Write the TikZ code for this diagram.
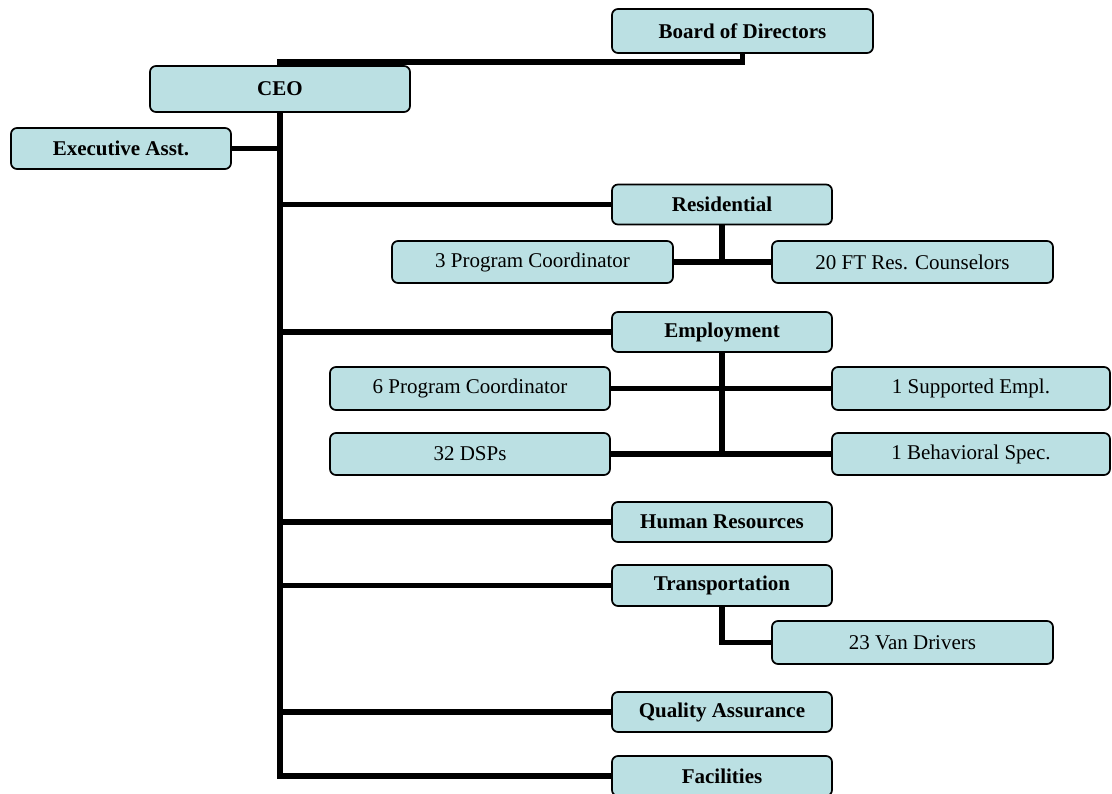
\documentclass[tikz,border=0pt]{standalone}
\usepackage{fontspec}
\setmainfont{Liberation Serif}
\definecolor{boxfill}{RGB}{187,224,227}
\tikzset{
  orgbox/.style={draw=black, line width=1.7pt, fill=boxfill, rounded corners=6pt,
    minimum height=40pt, inner sep=0pt, font=\fontsize{21}{25}\selectfont\bfseries},
  subbox/.style={draw=black, line width=1.7pt, fill=boxfill, rounded corners=6pt,
    minimum height=42pt, minimum width=280pt, inner sep=0pt, font=\fontsize{21}{25}\selectfont},
  link/.style={line width=5.8pt, line join=miter, black}
}
\begin{document}
\begin{tikzpicture}[x=1pt,y=-1pt]
\useasboundingbox (0,0) rectangle (1112,794);
% nodes
\node[orgbox, minimum width=261pt, minimum height=44pt] (board) at (742.5,31) {Board of Directors};
\node[orgbox, minimum width=260pt, minimum height=46pt] (ceo) at (280,89) {CEO};
\node[orgbox, minimum width=220pt, minimum height=41pt] (exec) at (121,148.5) {Executive Asst.};
\node[orgbox, minimum width=220pt] (res) at (722,204.5) {Residential};
\node[subbox, minimum width=281pt] (pc3) at (532.5,262) {3 Program Coordinator};
\node[subbox, minimum width=281pt] (ft20) at (912.5,262) {20 FT Res. Counselors};
\node[orgbox, minimum width=220pt] (emp) at (722,332) {Employment};
\node[subbox, minimum height=43pt] (pc6) at (470,388.5) {6 Program Coordinator};
\node[subbox, minimum width=278pt, minimum height=43pt] (se1) at (971,388.5) {1 Supported Empl.};
\node[subbox] (dsp) at (470,454) {32 DSPs};
\node[subbox, minimum width=278pt] (bs1) at (971,454) {1 Behavioral Spec.};
\node[orgbox, minimum width=220pt] (hr) at (722,522) {Human Resources};
\node[orgbox, minimum width=220pt, minimum height=41pt] (tr) at (722,585.5) {Transportation};
\node[subbox, minimum width=281pt, minimum height=43pt] (van) at (912.5,642.5) {23 Van Drivers};
\node[orgbox, minimum width=220pt] (qa) at (722,712) {Quality Assurance};
\node[orgbox, minimum width=220pt] (fac) at (722,776) {Facilities};
% connectors
\draw[link] (board.south) -- ++(0,8) -| (ceo.north);
\draw[link] (ceo.south) |- (fac.west);
\draw[link] (exec.east) -- (exec.east -| ceo.south);
\draw[link] (ceo.south |- res.west) -- (res.west);
\draw[link] (ceo.south |- emp.west) -- (emp.west);
\draw[link] (ceo.south |- hr.west) -- (hr.west);
\draw[link] (ceo.south |- tr.west) -- (tr.west);
\draw[link] (ceo.south |- qa.west) -- (qa.west);
\draw[link] (res.south) -- (res.south |- pc3.east);
\draw[link] (pc3.east) -- (ft20.west);
\draw[link] (emp.south) -- (emp.south |- dsp.east);
\draw[link] (pc6.east) -- (se1.west);
\draw[link] (dsp.east) -- (bs1.west);
\draw[link] (tr.south) |- (van.west);
\end{tikzpicture}
\end{document}
